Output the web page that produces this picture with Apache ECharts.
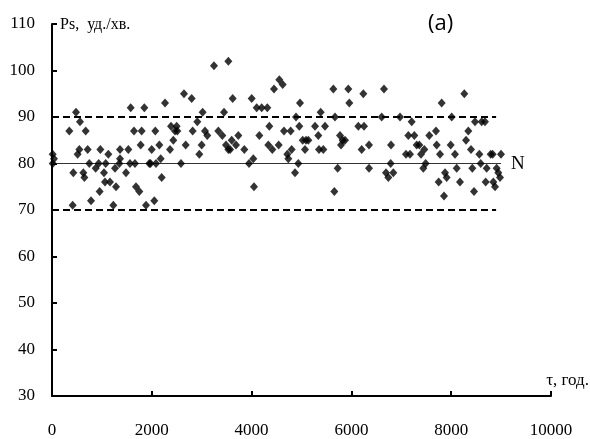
<!DOCTYPE html>
<html><head><meta charset="utf-8">
<script src="https://cdn.jsdelivr.net/npm/echarts@6/dist/echarts.min.js"></script>
<style>html,body{margin:0;padding:0;background:#fff}#c{width:590px;height:439px}</style>
</head><body><div id="c"></div>
<script>
// τ (years) and Ps (beats/min)
const tau = [14,40,15,427,414,347,481,561,675,548,514,628,649,715,748,782,875,935,969,955,
1042,1076,1129,1062,1162,1263,1283,1229,1350,1363,1363,1483,1530,1563,1577,1643,1663,1683,1750,1777,
1797,1850,1884,1950,1975,1998,2050,2084,2070,2151,2178,2198,2265,2365,2385,2431,2465,2498,2512,2585,
2645,2679,2799,2819,2912,2952,2999,3019,3066,3112,3246,3333,
3534,3413,3447,3487,3534,3570,3601,3621,3687,3734,3854,3948,4002,4034,4048,4102,4155,4202,
4315,4335,4355,4415,4449,4543,4555,4623,4649,4783,4716,4736,4803,4870,4890,4936,4956,4970,5024,5090,
5070,5137,5271,5337,5351,5437,5384,5471,5638,5671,5658,5725,5772,5825,5872,5792,5938,5958,6139,6253,
6239,6206,6353,6353,
6653,6607,6794,6787,6693,6740,6840,6974,7094,7174,7141,7208,7261,7308,7361,7395,7461,7441,7488,7561,
7695,7709,7776,7809,7749,7876,7909,7856,7990,8010,8076,8110,8176,8263,8297,8343,8397,8423,8457,8477,
8611,8677,8564,8591,8711,8691,8791,8831,8911,8944,8978,8844,8878,8998];
const ps = [82,81,80,78,71,87,91,89,87,83,82,78,77,83,80,72,79,80,83,74,
78,80,82,76,76,79,75,71,80,81,83,78,83,80,92,87,80,75,74,84,
87,92,71,80,80,83,72,80,87,84,81,77,93,83,88,85,87,88,87,80,
95,84,94,87,89,82,84,91,87,86,101,87,
102,86,91,84,83,83,85,94,84,86,83,80,94,81,75,92,86,92,
92,84,88,83,96,84,98,97,87,87,82,81,83,78,90,80,88,93,85,85,
83,85,88,86,83,83,91,88,96,90,74,79,86,85,85,84,96,93,88,88,
95,83,84,79,
96,90,84,80,78,77,78,90,82,82,86,89,86,84,84,82,83,79,80,86,
87,84,82,93,76,78,77,73,84,90,82,79,76,95,85,87,83,79,74,89,
89,89,82,80,79,76,82,82,79,78,77,76,75,82];

// axis ranges
const xMin = 0, xMax = 10000, xStep = 2000;
const yMin = 30, yMax = 110, yStep = 10;

// reference levels
const upperLevel = 90, normLevel = 80, lowerLevel = 70;
const refStart = 0, dashedEnd = 8900, solidEnd = 9000;

const points = tau.map((t, i) => [t, ps[i]]);
const seg = (lvl, end) => [[refStart, lvl], [end, lvl]];

const chart = echarts.init(document.getElementById('c'), null, {renderer: 'canvas'});
const serif = 'Liberation Serif, Times New Roman, serif';
chart.setOption({
  animation: false,
  backgroundColor: '#fff',
  grid: {left: 52, right: 39, top: 24, bottom: 42},
  xAxis: {
    type: 'value', min: xMin, max: xMax, interval: xStep,
    axisLine: {lineStyle: {color: '#000', width: 2}},
    axisTick: {inside: true, length: 5, lineStyle: {color: '#000', width: 2}},
    axisLabel: {color: '#000', fontFamily: serif, fontSize: 17, margin: 26,
                formatter: v => String(v)},
    splitLine: {show: false}
  },
  yAxis: {
    type: 'value', min: yMin, max: yMax, interval: yStep,
    axisLine: {show: true, lineStyle: {color: '#000', width: 2}},
    axisTick: {show: true, inside: true, length: 5, lineStyle: {color: '#000', width: 2}},
    axisLabel: {color: '#000', fontFamily: serif, fontSize: 17, margin: 17,
                formatter: v => String(v)},
    splitLine: {show: false}
  },
  series: [
    {type: 'line', data: seg(upperLevel, dashedEnd), symbol: 'none', silent: true,
     lineStyle: {color: '#000', width: 2, type: [7, 4]}, z: 1},
    {type: 'line', data: seg(lowerLevel, dashedEnd), symbol: 'none', silent: true,
     lineStyle: {color: '#000', width: 2, type: [7, 4]}, z: 1},
    {type: 'line', data: seg(normLevel, solidEnd), symbol: 'none', silent: true,
     lineStyle: {color: '#333', width: 1}, z: 1},
    {type: 'scatter', data: points, symbol: 'diamond', symbolSize: [8, 9],
     itemStyle: {color: '#000'}, z: 3}
  ],
  graphic: [
    {type: 'text', left: 60, top: 17, style: {text: 'Ps,  уд./хв.', font: '16px ' + serif, fill: '#000'}},
    {type: 'text', left: 428, top: 13, style: {text: '(a)', font: '22px "Open Sans", sans-serif', fill: '#000'}},
    {type: 'text', left: 511, top: 155, style: {text: 'N', font: '19px ' + serif, fill: '#000'}},
    {type: 'text', right: 1, top: 372, style: {text: 'τ, год.', font: '17px ' + serif, fill: '#000'}}
  ]
});
</script>
</body></html>
